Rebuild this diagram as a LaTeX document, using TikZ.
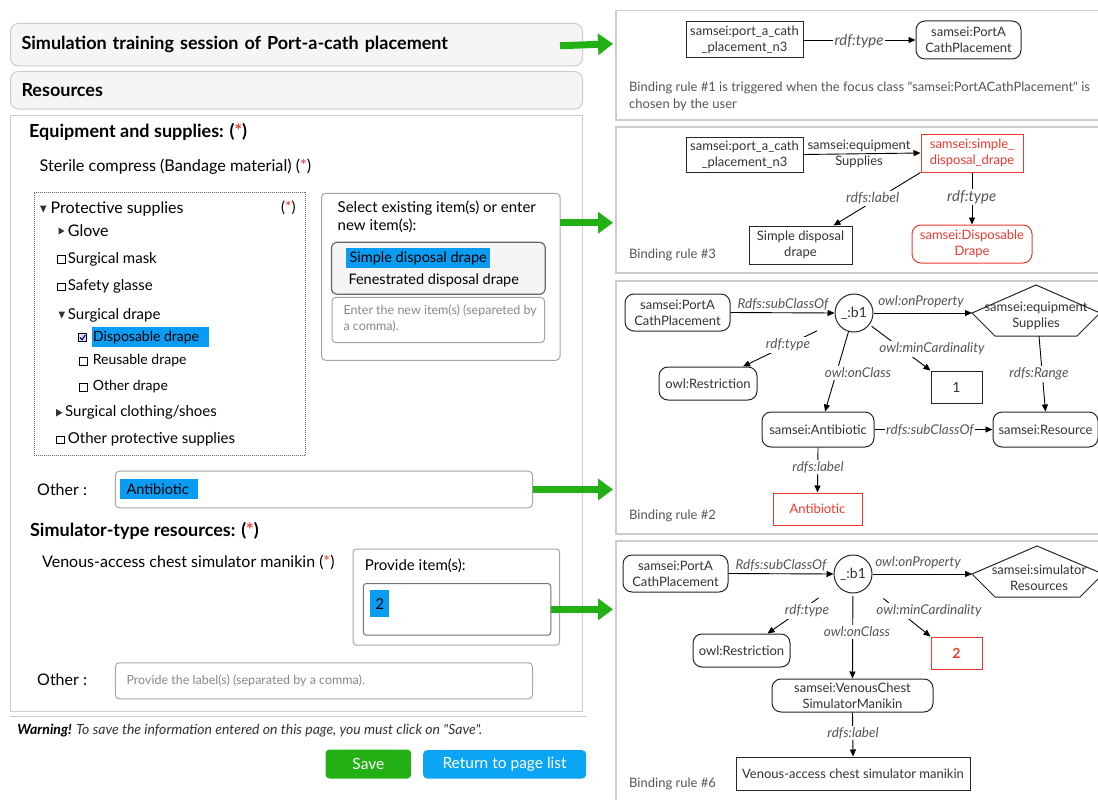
\documentclass[tikz,border=0pt]{standalone}
\usepackage{fontspec}
\setmainfont{Lato}[Ligatures=TeXOff]
\usetikzlibrary{arrows.meta,calc}
\definecolor{bgray}{HTML}{CCCCCC}
\definecolor{hdrfill}{HTML}{F5F5F5}
\definecolor{ggreen}{HTML}{22B014}
\definecolor{bblue}{HTML}{0AA5F5}
\definecolor{hblue}{HTML}{0A9BF2}
\definecolor{rred}{HTML}{EE3A2E}
\definecolor{ntxt}{HTML}{333333}
\definecolor{ltxt}{HTML}{555555}
\definecolor{phgray}{HTML}{888888}
\newcommand\fsz[2]{\fontsize{#1}{#2}\selectfont}
\newcommand\rast{(\textcolor{rred}{*})}
\tikzset{
 hdr/.style={draw=bgray, fill=hdrfill, line width=1pt, rounded corners=8pt, anchor=north west, inner xsep=11pt, inner ysep=0pt, align=left, text width=550pt, font=\fsz{18}{21}\bfseries},
 ftxt/.style={anchor=west, inner sep=0pt, text=black},
 fbox/.style={draw=black!35, line width=1pt, rounded corners=4pt},
 pnl/.style={draw=bgray, line width=1.5pt, anchor=north west, inner sep=0pt},
 gbox/.style={draw=black!85, line width=1pt, text=ntxt, font=\fsz{13}{16}, align=center, inner sep=1pt},
 grnd/.style={gbox, rounded corners=9pt},
 redbox/.style={gbox, draw=rred, text=rred},
 redrnd/.style={redbox, rounded corners=9pt},
 elab/.style={font=\fsz{13.5}{15}\itshape, text=ltxt, fill=white, inner sep=1.5pt},
 earr/.style={draw=black, line width=0.9pt, -{Triangle[length=7pt,width=6pt]}},
 garr/.style={draw=ggreen, line width=7pt, -{Triangle[length=15pt,width=21pt]}},
 btxt/.style={anchor=west, inner sep=0pt, text=ltxt, font=\fsz{13}{17}},
 ckbox/.style={draw=black, line width=0.8pt}
}
\begin{document}
\begin{tikzpicture}[x=1pt,y=-1pt]
\useasboundingbox (0,0) rectangle (1098,800);
\fill[white] (0,0) rectangle (1098,800);

% ---------- left form ----------
\node[hdr, minimum height=42.5pt] (h1) at (10,23) {Simulation training session of Port-a-cath placement};
\node[hdr, minimum height=37.5pt] (h2) at (10,71) {Resources};
\node[draw=bgray, line width=1pt, anchor=north west, minimum width=572pt, minimum height=596.5pt, inner sep=0pt] (mainbox) at (10,114.5) {};

\node[ftxt, font=\fsz{18}{21}\bfseries] (eqs) at (29,131.5) {Equipment and supplies: \rast};
\node[ftxt, font=\fsz{16.2}{19}] (ster) at (39.4,166.7) {Sterile compress (Bandage material) \rast};

% tree
\node[draw=black!60, dash pattern=on 1pt off 1pt, line width=0.8pt, anchor=north west, minimum width=271.7pt, minimum height=263.6pt, inner sep=0pt] (tree) at (33.7,191.7) {};
\fill[black!80] (40,205.5) -- (46.5,205.5) -- (43.25,212.5) -- cycle;
\node[ftxt, font=\fsz{16}{19}] (ps) at (50.5,209) {Protective supplies};
\node[ftxt, font=\fsz{15}{18}] (psa) at (281,208) {\rast};
\fill[black!80] (58.5,227.5) -- (64.5,231) -- (58.5,234.5) -- cycle;
\node[ftxt, font=\fsz{16}{19}] (gl) at (67.7,230.7) {Glove};
\draw[ckbox] (57.5,255.5) rectangle (65,263);
\node[ftxt, font=\fsz{15}{18}] (sm) at (67.7,259) {Surgical mask};
\draw[ckbox] (57.5,283) rectangle (65,290.5);
\node[ftxt, font=\fsz{15}{18}] (sg) at (67.7,286.7) {Safety glasse};
\fill[black!80] (58.5,311.5) -- (65,311.5) -- (61.75,318.5) -- cycle;
\node[ftxt, font=\fsz{15}{18}] (sd0) at (67.7,315) {Surgical drape};
\fill[hblue] (91.8,327) rectangle (208.6,346.7);
\draw[ckbox, fill=blue!15] (78.5,333.5) rectangle (86.5,341.5);
\draw[line width=1.1pt, blue!40!black] (80,337.5) -- (82,339.8) -- (85.3,335);
\node[ftxt, font=\fsz{14}{17}] (dis) at (93,337.7) {Disposable drape};
\draw[ckbox] (79.5,357) rectangle (87.5,365);
\node[ftxt, font=\fsz{14}{17}] (reu) at (92.6,361) {Reusable drape};
\draw[ckbox] (79.5,383) rectangle (87.5,391);
\node[ftxt, font=\fsz{14}{17}] (otd) at (92.6,387) {Other drape};
\fill[black!80] (56,409) -- (62.5,412.7) -- (56,416.5) -- cycle;
\node[ftxt, font=\fsz{15}{18}] (scs) at (65,412.7) {Surgical clothing/shoes};
\draw[ckbox] (56.5,436) rectangle (64,443.5);
\node[ftxt, font=\fsz{15}{18}] (ops) at (67.7,439.7) {Other protective supplies};

% selection box
\draw[fbox] (321.5,193.3) rectangle (560,360.3);
\coordinate (selE) at (560,222.7);
\node[ftxt, font=\fsz{15}{18}, align=left, anchor=north west] (selt) at (337.5,201) {Select existing item(s) or enter\\new item(s):};
\draw[draw=black!60, fill=hdrfill, line width=1.2pt, rounded corners=6pt] (331.4,242.3) rectangle (545.3,294.3);
\fill[hblue] (346,248) rectangle (490,267.7);
\node[ftxt, font=\fsz{14.5}{17}] (sdd) at (349.4,258.5) {Simple disposal drape};
\node[ftxt, font=\fsz{14.5}{17}] (fdd) at (348.3,280) {Fenestrated disposal drape};
\draw[fbox] (332,297.3) rectangle (544.6,342.7);
\node[ftxt, font=\fsz{12.5}{16}, text=phgray, align=left, anchor=north west] (ph1) at (343.3,305) {Enter the new item(s) (separeted by\\a comma).};

% other 1
\node[ftxt, font=\fsz{16}{19}] (oth1l) at (37,489.3) {Other :};
\node[fbox, anchor=north west, minimum width=417.2pt, minimum height=36.6pt, inner sep=0pt] (oth1) at (114.8,470.7) {};
\fill[hblue] (120.2,479) rectangle (197.9,499);
\node[ftxt, font=\fsz{14.5}{17}] (antt) at (126.3,489.5) {Antibiotic};

% simulator section
\node[ftxt, font=\fsz{18}{21}\bfseries] (simh) at (29.9,531) {Simulator-type resources: \rast};
\node[ftxt, font=\fsz{16}{19}] (ven) at (42,562.3) {Venous-access chest simulator manikin \rast};
\draw[fbox, rounded corners=3pt] (353.2,549) rectangle (559.5,645);
\node[ftxt, font=\fsz{15}{18}] (provt) at (364.7,566) {Provide item(s):};
\node[fbox, draw=black!55, rounded corners=3pt, anchor=north west, minimum width=187.5pt, minimum height=51.7pt, inner sep=0pt] (prov) at (362.8,583) {};
\fill[hblue] (370,590) rectangle (389.2,616.7);
\node[font=\fsz{15}{18}, inner sep=0pt] (two0) at (379.6,604) {2};

\node[ftxt, font=\fsz{16}{19}] (oth2l) at (37,679.3) {Other :};
\node[fbox, anchor=north west, minimum width=417.2pt, minimum height=36pt, inner sep=0pt] (oth2) at (114.8,662.3) {};
\node[ftxt, font=\fsz{12.5}{15}, text=phgray] (ph2) at (126.3,680.7) {Provide the label(s) (separated by a comma).};

\draw[bgray, line width=1.5pt] (10,716.7) -- (585.5,716.7);
\node[ftxt, font=\fsz{14}{16}\itshape] (warn) at (17.2,730.7) {\textbf{Warning!} \textcolor{ntxt}{To save the information entered on this page, you must click on "Save".}};
\node[fill=ggreen, rounded corners=4pt, minimum width=85.7pt, minimum height=29pt, inner sep=0pt, text=white, font=\fsz{15.5}{18}, anchor=north west] (save) at (325.3,749.3) {Save};
\node[fill=bblue, rounded corners=4pt, minimum width=163pt, minimum height=28.3pt, inner sep=0pt, text=white, font=\fsz{15.5}{18}, anchor=north west] (ret) at (422.9,750) {Return to page list};

% ---------- right panels ----------
\node[pnl, minimum width=495pt, minimum height=109pt] (p1) at (615,10) {};
\node[pnl, minimum width=495pt, minimum height=146pt] (p2) at (615,126) {};
\node[pnl, minimum width=495pt, minimum height=253pt] (p3) at (615,280) {};
\node[pnl, minimum width=495pt, minimum height=280pt] (p4) at (615,540) {};

% green arrows
\draw[garr] ([xshift=-23pt,yshift=-1pt]h1.east) -- ($(p1.west |- h1.east)+(-2,-1)$);
\draw[garr] (selE) -- ($(selE -| p2.west)+(-2,0)$);
\draw[garr] (oth1.east) -- ($(oth1.east -| p3.west)+(-2,0)$);
\draw[garr] (prov.east) -- ($(prov.east -| p4.west)+(-2,0)$);

% panel 1
\node[gbox, minimum width=117pt, minimum height=36pt] (pn1) at (744.5,40) {samsei:port\_a\_cath\\\_placement\_n3};
\node[grnd, minimum width=105pt, minimum height=38pt] (pc1) at (968.5,40) {samsei:PortA\\CathPlacement};
\draw[earr] (pn1.east) -- (pc1.west);
\node[elab, font=\fsz{15}{16}\itshape] (l11) at (859,41) {rdf:type};
\node[btxt, align=left, anchor=north west] (br1) at (629,81.5) {Binding rule \#1 is triggered when the focus class "samsei:PortACathPlacement" is\\chosen by the user};

% panel 2
\node[gbox, minimum width=117pt, minimum height=35pt] (pn2) at (744.5,154.5) {samsei:port\_a\_cath\\\_placement\_n3};
\node[redbox, minimum width=102pt, minimum height=38pt] (red1) at (972,153) {samsei:simple\_\\disposal\_drape};
\node[gbox, minimum width=103pt, minimum height=38pt] (sdb) at (800.5,245) {Simple disposal\\drape};
\node[redrnd, minimum width=120pt, minimum height=38pt] (ddb) at (972,244) {samsei:Disposable\\Drape};
\draw[earr] (pn2.east) -- (red1.west);
\draw[earr] (red1.south west) -- ([xshift=33pt]sdb.north);
\draw[earr] (red1.south) -- (ddb.north);
\node[font=\fsz{13}{16}, text=ntxt, align=center, inner sep=0pt] (l21) at (859,154) {samsei:equipment\\Supplies};
\node[elab, font=\fsz{14}{15}\itshape] (l22) at (872.7,198.7) {rdfs:label};
\node[elab, font=\fsz{15}{16}\itshape] (l23) at (971.7,197) {rdf:type};
\node[btxt] (br3) at (629,255) {Binding rule \#3};

% panel 3
\node[grnd, minimum width=105pt, minimum height=37pt] (pc3) at (677.5,312.5) {samsei:PortA\\CathPlacement};
\node[circle, draw=black!85, line width=1pt, minimum size=38pt, inner sep=0pt, text=ntxt, font=\fsz{14}{16}] (b1) at (854,313) {\_:b1};
\node[text=ntxt, font=\fsz{13}{16}, align=center, inner sep=0pt] (eq) at (1036,316) {samsei:equipment\\Supplies};
\draw[black!85, line width=1pt] ($(eq)+(-64,-3)$) -- ($(eq)+(0,-31)$) -- ($(eq)+(64,-3)$) -- ($(eq)+(41,20)$) -- ($(eq)+(-41,20)$) -- cycle;
\coordinate (eqL) at ($(eq)+(-64,-3)$);
\coordinate (eqB) at ($(eq)+(3,20)$);
\node[grnd, minimum width=98pt, minimum height=33pt] (res3) at (708,383.5) {owl:Restriction};
\node[gbox, minimum width=51pt, minimum height=32pt, font=\fsz{14}{16}] (one) at (956.5,387) {1};
\node[grnd, minimum width=112pt, minimum height=35pt] (ab) at (818,429.5) {samsei:Antibiotic};
\node[grnd, minimum width=105pt, minimum height=35pt] (rs) at (1045.5,429.5) {samsei:Resource};
\node[redbox, minimum width=89pt, minimum height=32pt] (abl) at (817.5,509) {Antibiotic};
\draw[earr] (pc3.east) -- (b1.west);
\draw[earr] (b1.east) -- (eqL);
\draw[earr, shorten <=41pt] (b1.center) -- ([xshift=35pt]res3.north);
\draw[earr, shorten <=19pt] (b1.center) -- ([xshift=7pt]ab.north);
\draw[earr, shorten <=22pt] (b1.center) -- (one.north west);
\draw[earr] (ab.east) -- (rs.west);
\draw[earr] (eqB) -- (rs.north);
\draw[earr] (ab.south) -- (abl.north);
\node[elab, fill=none] (l31) at (783,304) {Rdfs:subClassOf};
\node[elab, fill=none] (l32) at (921,302) {owl:onProperty};
\node[elab] (l33) at (788,345) {rdf:type};
\node[elab] (l34) at (858,373) {owl:onClass};
\node[elab] (l35) at (932,349) {owl:minCardinality};
\node[elab] (l36) at (1039,374) {rdfs:Range};
\node[elab] (l37) at (930,430) {rdfs:subClassOf};
\node[elab] (l38) at (818,467) {rdfs:label};
\node[btxt] (br2) at (629,516) {Binding rule \#2};

% panel 4
\node[grnd, minimum width=105pt, minimum height=37pt] (pc4) at (675.5,573.5) {samsei:PortA\\CathPlacement};
\node[circle, draw=black!85, line width=1pt, minimum size=38pt, inner sep=0pt, text=ntxt, font=\fsz{14}{16}] (b2) at (853,574) {\_:b1};
\node[text=ntxt, font=\fsz{13}{16}, align=center, inner sep=0pt] (sim) at (1039,578) {samsei:simulator\\Resources};
\draw[black!85, line width=1pt] ($(sim)+(-67,-4)$) -- ($(sim)+(-2,-32)$) -- ($(sim)+(64,-4)$) -- ($(sim)+(41,19)$) -- ($(sim)+(-44,19)$) -- cycle;
\coordinate (simL) at ($(sim)+(-67,-4)$);
\node[grnd, minimum width=97pt, minimum height=33pt] (res4) at (741.5,650.5) {owl:Restriction};
\node[redbox, minimum width=51pt, minimum height=32pt, font=\fsz{14}{16}\bfseries] (two) at (956.5,653) {2};
\node[grnd, minimum width=161pt, minimum height=33pt] (vc) at (852.5,695.5) {samsei:VenousChest\\SimulatorManikin};
\node[gbox, minimum width=234pt, minimum height=33pt] (vl) at (853,773.5) {Venous-access chest simulator manikin};
\draw[earr] (pc4.east) -- (b2.west);
\draw[earr] (b2.east) -- (simL);
\draw[earr, shorten <=42pt] (b2.center) -- ([xshift=26pt]res4.north);
\draw[earr, shorten <=22pt] (b2.center) -- (vc.north);
\draw[earr, shorten <=39pt] (b2.center) -- (two.north west);
\draw[earr] (vc.south) -- (vl.north);
\node[elab, fill=none] (l41) at (781,565) {Rdfs:subClassOf};
\node[elab, fill=none] (l42) at (918,563) {owl:onProperty};
\node[elab] (l43) at (807,611) {rdf:type};
\node[elab] (l44) at (857,632) {owl:onClass};
\node[elab] (l45) at (929,611) {owl:minCardinality};
\node[elab] (l46) at (853,733) {rdfs:label};
\node[btxt] (br6) at (629,784) {Binding rule \#6};
\end{tikzpicture}
\end{document}
